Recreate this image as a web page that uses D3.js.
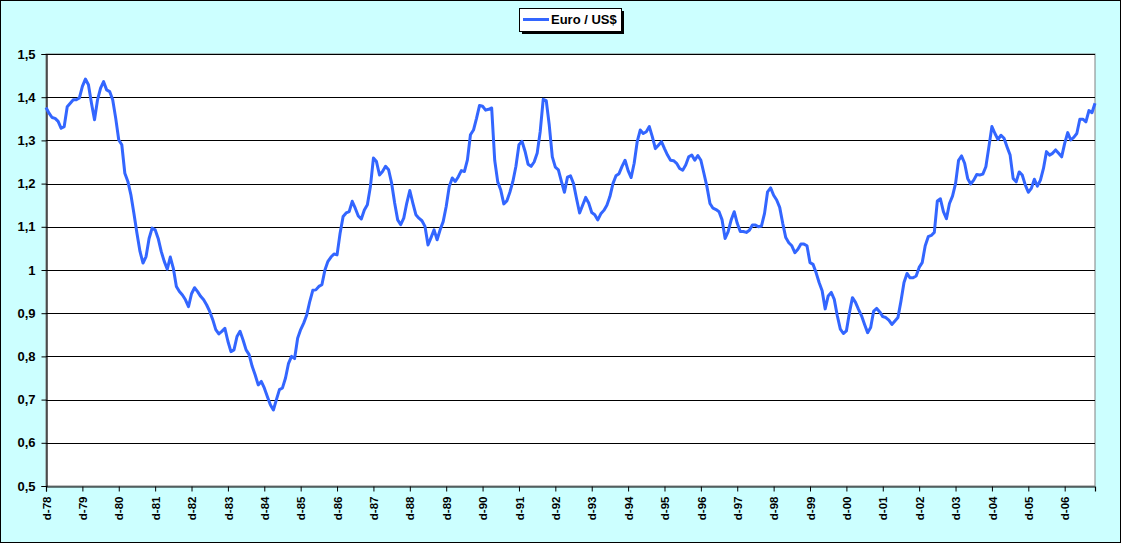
<!DOCTYPE html>
<html>
<head>
<meta charset="utf-8">
<script src="https://cdn.jsdelivr.net/npm/d3@7"></script>
<style>
  html, body { margin: 0; padding: 0; background: #fff; }
  svg { display: block; font-family: "Liberation Sans", Arial, sans-serif; }
</style>
</head>
<body>
<svg id="chart"></svg>
<script>
// Monthly Euro / US$ rate, Dec 1978 .. Oct 2007
const rates = [
  1.376,
  1.363, 1.353, 1.351, 1.344, 1.328, 1.332, 1.378, 1.386, 1.394, 1.394, 1.398, 1.425,
  1.442, 1.429, 1.386, 1.348, 1.394, 1.421, 1.436, 1.417, 1.413, 1.394, 1.351, 1.301,
  1.290, 1.224, 1.205, 1.174, 1.131, 1.085, 1.043, 1.016, 1.031, 1.073, 1.097, 1.093,
  1.073, 1.043, 1.020, 1.002, 1.030, 1.004, 0.962, 0.950, 0.942, 0.931, 0.915, 0.945,
  0.959, 0.950, 0.939, 0.931, 0.919, 0.904, 0.885, 0.862, 0.852, 0.858, 0.865, 0.835,
  0.811, 0.815, 0.846, 0.858, 0.838, 0.815, 0.804, 0.777, 0.757, 0.734, 0.742, 0.727,
  0.707, 0.688, 0.676, 0.700, 0.723, 0.727, 0.750, 0.784, 0.800, 0.795, 0.842, 0.862,
  0.877, 0.896, 0.927, 0.953, 0.954, 0.962, 0.966, 1.000, 1.020, 1.030, 1.037, 1.035,
  1.085, 1.124, 1.132, 1.135, 1.159, 1.143, 1.125, 1.118, 1.139, 1.151, 1.193, 1.259,
  1.251, 1.220, 1.228, 1.240, 1.232, 1.201, 1.155, 1.116, 1.105, 1.120, 1.155, 1.184,
  1.155, 1.128, 1.120, 1.114, 1.101, 1.058, 1.075, 1.093, 1.070, 1.093, 1.112, 1.147,
  1.193, 1.213, 1.205, 1.216, 1.230, 1.228, 1.255, 1.313, 1.324, 1.351, 1.381, 1.379,
  1.370, 1.372, 1.375, 1.254, 1.204, 1.185, 1.153, 1.160, 1.180, 1.205, 1.240, 1.290,
  1.298, 1.275, 1.245, 1.240, 1.250, 1.270, 1.320, 1.395, 1.392, 1.335, 1.262, 1.238,
  1.232, 1.205, 1.180, 1.215, 1.218, 1.200, 1.165, 1.132, 1.150, 1.168, 1.155, 1.133,
  1.128, 1.116, 1.130, 1.138, 1.150, 1.170, 1.200, 1.218, 1.223, 1.240, 1.254, 1.230,
  1.214, 1.247, 1.297, 1.324, 1.316, 1.320, 1.332, 1.308, 1.281, 1.289, 1.297, 1.281,
  1.266, 1.254, 1.253, 1.247, 1.235, 1.231, 1.243, 1.262, 1.266, 1.254, 1.265, 1.254,
  1.224, 1.193, 1.154, 1.143, 1.140, 1.135, 1.116, 1.073, 1.089, 1.116, 1.135, 1.108,
  1.089, 1.089, 1.087, 1.092, 1.104, 1.104, 1.100, 1.102, 1.131, 1.181, 1.190, 1.173,
  1.162, 1.145, 1.108, 1.075, 1.063, 1.056, 1.040, 1.048, 1.060, 1.060, 1.056, 1.017,
  1.013, 0.994, 0.971, 0.952, 0.910, 0.940, 0.948, 0.932, 0.894, 0.863, 0.853, 0.859,
  0.901, 0.936, 0.925, 0.909, 0.894, 0.874, 0.855, 0.867, 0.905, 0.911, 0.903, 0.892,
  0.890, 0.884, 0.874, 0.882, 0.890, 0.928, 0.971, 0.992, 0.982, 0.982, 0.986, 1.006,
  1.017, 1.056, 1.077, 1.080, 1.087, 1.160, 1.165, 1.135, 1.119, 1.154, 1.171, 1.200,
  1.254, 1.264, 1.247, 1.212, 1.199, 1.208, 1.221, 1.220, 1.222, 1.239, 1.285, 1.332,
  1.316, 1.302, 1.312, 1.305, 1.285, 1.266, 1.212, 1.204, 1.227, 1.220, 1.197, 1.180,
  1.189, 1.210, 1.194, 1.208, 1.235, 1.274, 1.266, 1.270, 1.278, 1.270, 1.262, 1.293,
  1.318, 1.301, 1.307, 1.316, 1.349, 1.349, 1.343, 1.369, 1.364, 1.386
];

// Year-end labels shown on the category axis (one every 12 months)
const tickLabels = ["d-78","d-79","d-80","d-81","d-82","d-83","d-84","d-85","d-86","d-87",
  "d-88","d-89","d-90","d-91","d-92","d-93","d-94","d-95","d-96","d-97","d-98","d-99",
  "d-00","d-01","d-02","d-03","d-04","d-05","d-06"];

const yTicks = [0.5, 0.6, 0.7, 0.8, 0.9, 1.0, 1.1, 1.2, 1.3, 1.4, 1.5];
const seriesName = "Euro / US$";

const width = 1121, height = 543;
const plot = { left: 46, right: 1095, top: 54, bottom: 486 };

const svg = d3.select("#chart")
  .attr("width", width)
  .attr("height", height);

// Chart area background + frame
svg.append("rect")
  .attr("x", 0.5).attr("y", 0.5)
  .attr("width", width - 1).attr("height", height - 1)
  .style("fill", "#ccffff")
  .style("stroke", "#000")
  .style("stroke-width", 1);

// Plot area
svg.append("rect")
  .attr("x", plot.left).attr("y", plot.top)
  .attr("width", plot.right - plot.left).attr("height", plot.bottom - plot.top)
  .style("fill", "#fff")
  .style("stroke", "#808080")
  .style("stroke-width", 1);

// Scales
const xScale = d3.scalePoint()
  .domain(d3.range(rates.length))
  .range([plot.left, plot.right]);

const yScale = d3.scaleLinear()
  .domain([0.5, 1.5])
  .range([plot.bottom, plot.top]);

const fmt = d => d3.format(".1f")(d).replace(".", ",").replace(",0", "");

// Gridlines
svg.append("g")
  .selectAll("line")
  .data(yTicks.slice(1))
  .enter()
  .append("line")
  .attr("x1", plot.left).attr("x2", plot.right)
  .attr("y1", d => Math.round(yScale(d)) + 0.5)
  .attr("y2", d => Math.round(yScale(d)) + 0.5)
  .style("stroke", "#000")
  .style("stroke-width", 1.2);

// Y axis
const yAxis = svg.append("g")
  .attr("transform", `translate(${plot.left + 0.5},0)`)
  .call(d3.axisLeft(yScale).tickValues(yTicks).tickSize(5).tickPadding(6).tickFormat(fmt));
yAxis.select(".domain").style("stroke", "#000").style("stroke-width", 1.2);
yAxis.selectAll(".tick line").style("stroke", "#000");
yAxis.selectAll("text")
  .style("font-family", "'Liberation Sans', Arial, sans-serif")
  .style("font-size", "13px")
  .style("font-weight", "bold")
  .style("fill", "#000");

// X axis (category, a label every December)
const xTickIdx = tickLabels.map((d, i) => i * 12);
const xAxis = svg.append("g")
  .attr("transform", `translate(0,${plot.bottom + 0.5})`)
  .call(d3.axisBottom(xScale).tickValues(xTickIdx).tickSize(5).tickFormat(d => tickLabels[d / 12]));
xAxis.select(".domain").style("stroke", "#000").style("stroke-width", 1.2);
xAxis.selectAll(".tick line").style("stroke", "#000");
xAxis.selectAll("text")
  .attr("transform", "rotate(-90)")
  .attr("x", -10)
  .attr("y", 0)
  .attr("dy", "0.36em")
  .attr("dx", 0)
  .style("text-anchor", "end")
  .style("font-family", "'Liberation Sans', Arial, sans-serif")
  .style("font-size", "11.5px")
  .style("font-weight", "bold")
  .style("fill", "#000");

// The series line
const line = d3.line()
  .x((d, i) => xScale(i))
  .y(d => yScale(d));

svg.append("path")
  .datum(rates)
  .attr("d", line)
  .style("fill", "none")
  .style("stroke", "#3366ff")
  .style("stroke-width", 3)
  .style("stroke-linejoin", "round");

// Legend with drop shadow
const legend = svg.append("g").attr("transform", "translate(519,8)");
legend.append("rect")
  .attr("x", 3).attr("y", 3).attr("width", 102).attr("height", 23)
  .style("fill", "#000");
legend.append("rect")
  .attr("x", 0.5).attr("y", 0.5).attr("width", 102).attr("height", 23)
  .style("fill", "#fff")
  .style("stroke", "#000");
legend.append("line")
  .attr("x1", 4).attr("x2", 30).attr("y1", 11.5).attr("y2", 11.5)
  .style("stroke", "#3366ff")
  .style("stroke-width", 3);
legend.append("text")
  .attr("x", 32).attr("y", 16)
  .style("font-size", "13px")
  .style("font-weight", "bold")
  .text(seriesName);
</script>
</body>
</html>
